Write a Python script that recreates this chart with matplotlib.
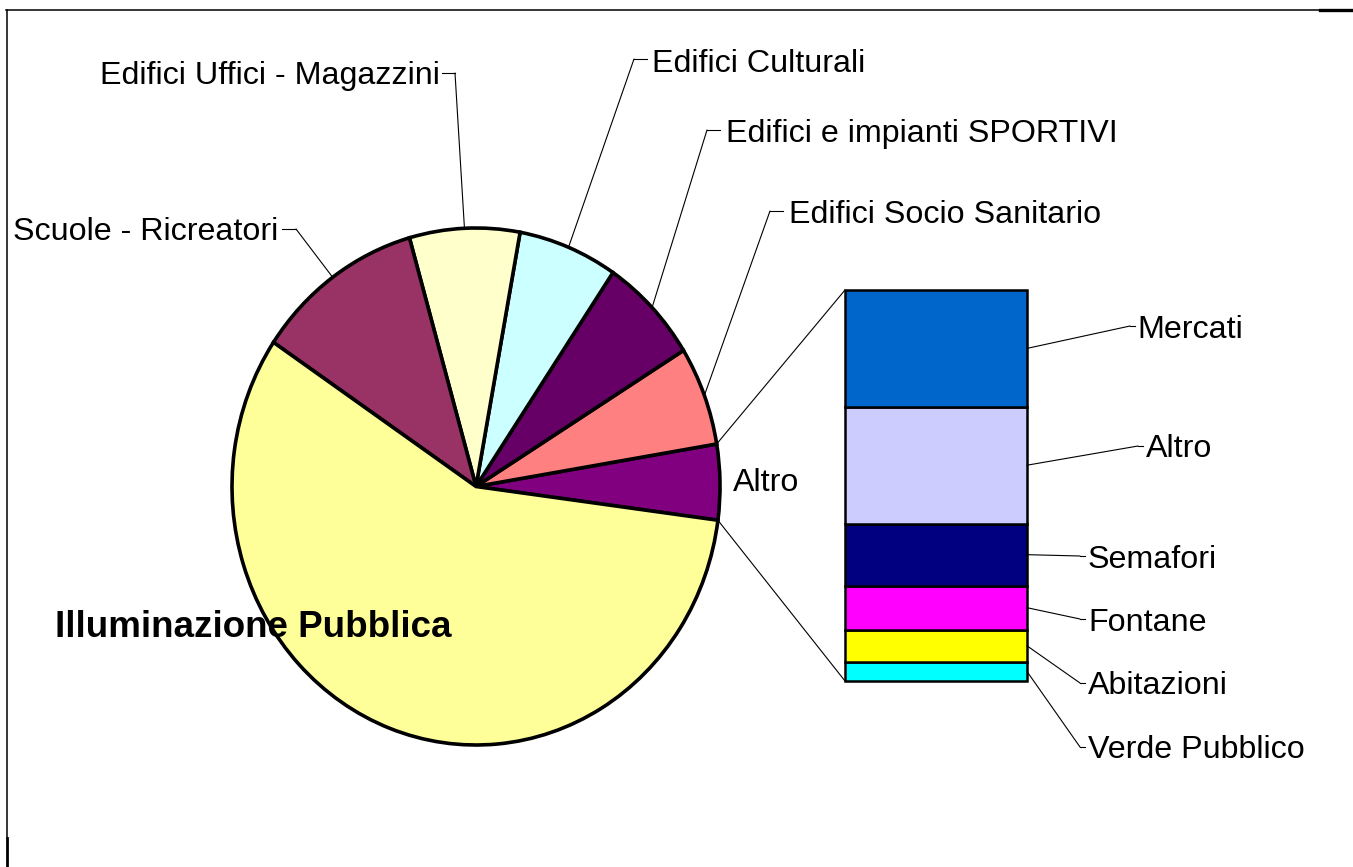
import numpy as np
import matplotlib
matplotlib.use("Agg")
import matplotlib.pyplot as plt
from matplotlib.patches import ConnectionPatch

plt.rcParams["font.family"] = ["Liberation Sans", "DejaVu Sans"]

# breakdown of the "Altro" slice, top to bottom in the stacked bar
bar_labels = ["Mercati", "Altro", "Semafori", "Fontane", "Abitazioni", "Verde Pubblico"]
bar_values = [1.41, 1.41, 0.75, 0.53, 0.39, 0.23]
bar_colors = ["#0066CC", "#CCCCFF", "#000080", "#FF00FF", "#FFFF00", "#00FFFF"]

# main pie, counter-clockwise starting from the "Altro" slice
pie_labels = ["Altro", "Edifici Socio Sanitario", "Edifici e impianti SPORTIVI",
              "Edifici Culturali", "Edifici Uffici - Magazzini",
              "Scuole - Ricreatori", "Illuminazione Pubblica"]
pie_values = [sum(bar_values), 6.2, 6.7, 6.6, 7.3, 11.2, 57.4]
pie_colors = ["#800080", "#FF8080", "#660066", "#CCFFFF", "#FFFFCC", "#993366", "#FFFF99"]
start_angle = -7.5

W, H = 1353, 867
fig = plt.figure(figsize=(W / 100, H / 100), dpi=100)


def px_axes(left, top, right, bottom):
    return fig.add_axes([left / W, 1 - bottom / H, (right - left) / W, (bottom - top) / H])


# overlay in pixel units for labels and frame
ov = px_axes(0, 0, W, H)
ov.set_xlim(0, W)
ov.set_ylim(H, 0)
ov.axis("off")
ov.set_zorder(5)

pax = px_axes(232, 228, 720, 745)
pax.pie(pie_values, colors=pie_colors, startangle=start_angle, counterclock=True,
        radius=1, wedgeprops=dict(edgecolor="black", linewidth=2.6, clip_on=False))
pax.set_aspect("auto")
pax.set_xlim(-1, 1)
pax.set_ylim(-1, 1)
pax.axis("off")

bax = px_axes(845, 290, 1027, 681)
stack = list(zip(bar_labels, bar_values, bar_colors))[::-1]
bottoms = np.concatenate([[0], np.cumsum([v for _, v, _ in stack])[:-1]])
for (lab, v, c), b in zip(stack, bottoms):
    bax.bar(0, v, bottom=b, width=1, color=c, edgecolor="black", linewidth=1.8, clip_on=False)
total = sum(bar_values)
bax.set_xlim(-0.5, 0.5)
bax.set_ylim(0, total)
bax.axis("off")

line_kw = dict(color="black", linewidth=0.8)


def connect(xy_a, ax_a, xy_b, ax_b):
    con = ConnectionPatch(xyA=xy_a, coordsA=ax_a.transData, xyB=xy_b, coordsB=ax_b.transData,
                          arrowstyle="-", **line_kw)
    fig.add_artist(con)


# wedge edges
fr = np.array(pie_values) / sum(pie_values)
edges = start_angle + 360 * np.concatenate([[0], np.cumsum(fr)])
mids = np.deg2rad((edges[:-1] + edges[1:]) / 2)

# pie -> bar connectors
a0, a1 = np.deg2rad(edges[0]), np.deg2rad(edges[1])
connect((np.cos(a1), np.sin(a1)), pax, (-0.5, total), bax)
connect((np.cos(a0), np.sin(a0)), pax, (-0.5, 0), bax)

fs = 23.2
# labels with elbow leaders: (text x, baseline, elbow x0, elbow x1, leader y, ha)
pie_text = {
    "Edifici Socio Sanitario": (789, 223, 770, 783, 211, "left"),
    "Edifici e impianti SPORTIVI": (726, 142, 707, 720, 130, "left"),
    "Edifici Culturali": (652, 72, 634, 647, 59, "left"),
    "Edifici Uffici - Magazzini": (440, 84, 455, 442, 73, "right"),
    "Scuole - Ricreatori": (278, 240, 296, 282, 229, "right"),
}
for i, lab in enumerate(pie_labels):
    if lab in pie_text:
        tx, ty, ex0, ex1, ly, ha = pie_text[lab]
        ov.text(tx, ty, lab, fontsize=fs, ha=ha, va="baseline")
        ov.plot([ex0, ex1], [ly, ly], **line_kw)
        connect((np.cos(mids[i]), np.sin(mids[i])), pax, (ex0, ly), ov)

ov.text(733, 491, "Altro", fontsize=fs, ha="left", va="baseline")
ov.text(55, 637, "Illuminazione Pubblica", fontsize=26.5, fontweight="bold",
        ha="left", va="baseline")

# bar labels: (text x, baseline, leader end x, leader end y)
bar_text = {
    "Mercati": (1137, 338, 1130, 326),
    "Altro": (1146, 457, 1138, 446),
    "Semafori": (1088, 568, 1080, 556),
    "Fontane": (1088, 631, 1080, 619),
    "Abitazioni": (1088, 694, 1080, 683),
    "Verde Pubblico": (1088, 758, 1080, 747),
}
for (lab, v, c), b in zip(stack, bottoms):
    tx, ty, ex, ey = bar_text[lab]
    ov.text(tx, ty, lab, fontsize=fs, ha="left", va="baseline")
    connect((0.5, b + v / 2), bax, (ex, ey), ov)
    ov.plot([ex, ex + 5], [ey, ey], **line_kw)

# chart frame
ov.plot([6, 1320], [10, 10], color="black", linewidth=1.1)
ov.plot([1320, W], [10, 10], color="black", linewidth=2.4)
ov.plot([6.5, 6.5], [10, 838], color="black", linewidth=1.1)
ov.plot([6.5, 6.5], [838, H], color="black", linewidth=2.0)

fig.savefig("out.png", dpi=100)
